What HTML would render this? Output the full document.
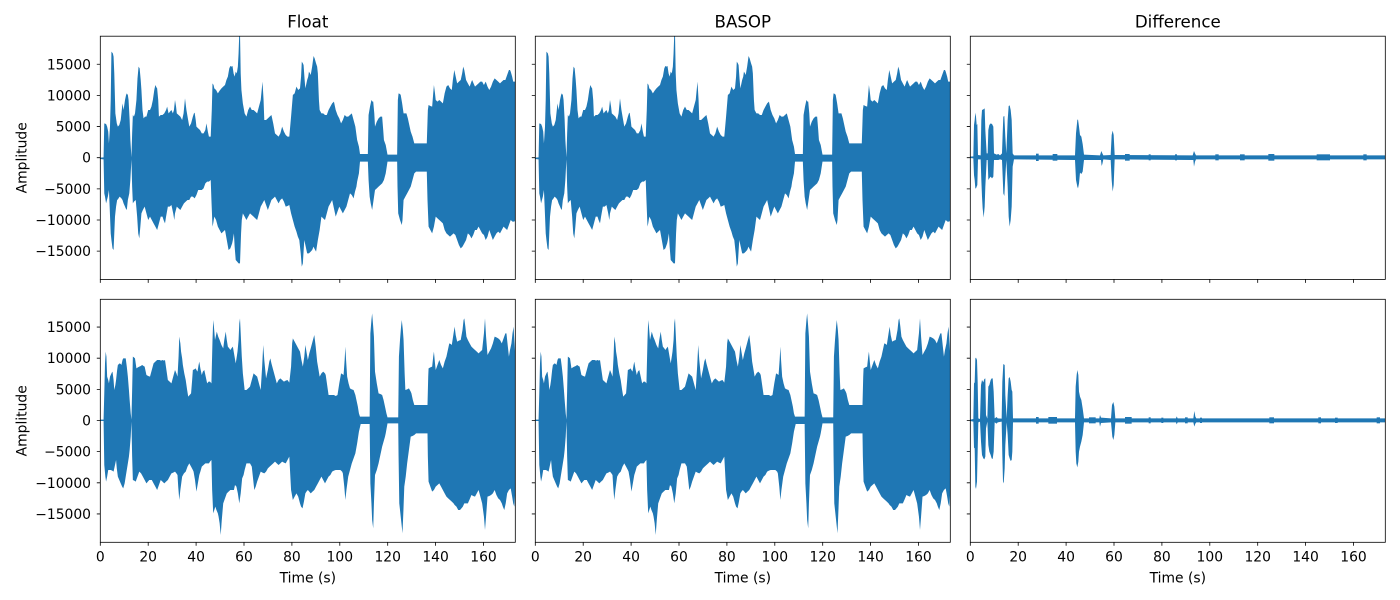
<!DOCTYPE html>
<html><head><meta charset="utf-8"><style>
html,body{margin:0;padding:0;background:#fff;}
svg{display:block;}
text{font-family:"DejaVu Sans","Liberation Sans",sans-serif;fill:#000;}
.tl{font-size:13.89px;}
.tt{font-size:16.67px;}
</style></head><body>
<svg width="1400" height="600" viewBox="0 0 1400 600" xmlns="http://www.w3.org/2000/svg">
<rect width="1400" height="600" fill="#fff"/>
<defs>
<clipPath id="c1"><rect x="100.3" y="36.2" width="415" height="243.2"/></clipPath>
<clipPath id="c2"><rect x="535.3" y="36.2" width="415" height="243.2"/></clipPath>
<clipPath id="c3"><rect x="970.3" y="36.2" width="415" height="243.2"/></clipPath>
<clipPath id="c4"><rect x="100.3" y="299.3" width="415" height="243"/></clipPath>
<clipPath id="c5"><rect x="535.3" y="299.3" width="415" height="243"/></clipPath>
<clipPath id="c6"><rect x="970.3" y="299.3" width="415" height="243"/></clipPath>
<polygon id="sigA" fill="#1f77b4" points="281,473 290,472 292,370 297,372 300,380 303,395 305,430 308,380 310,300 312,155 316,160 318,170 320,220 323,340 327,370 330,380 334,375 338,360 341,330 343,310 346,330 350,300 353,285 355,280 358,285 360,300 363,360 365,420 368,472 370,400 372,345 375,350 378,340 382,300 385,235 388,200 391,205 394,240 396,270 399,330 402,355 406,350 410,350 415,330 420,330 424,320 428,300 432,270 435,255 438,262 440,265 443,300 445,350 450,345 455,345 460,340 465,330 468,320 472,340 476,335 480,330 484,340 487,330 490,300 493,320 495,340 500,345 505,350 510,360 514,340 518,295 522,330 526,355 530,380 535,370 540,350 543,340 545,338 548,360 550,380 555,385 560,390 565,400 570,400 575,390 578,370 582,395 585,410 590,410 593,330 595,250 598,255 600,265 605,270 610,280 615,272 620,265 625,260 630,255 634,240 638,230 642,205 645,198 648,200 651,198 654,220 657,230 660,215 663,220 666,200 668,160 670,100 672,100 674,220 676,270 680,310 685,340 690,350 695,330 700,320 705,330 710,330 715,335 720,340 725,320 730,300 735,245 738,300 740,360 745,360 750,355 755,350 760,345 765,370 770,400 775,405 780,410 785,400 790,380 795,395 800,405 805,410 810,410 815,350 820,285 825,280 830,260 835,270 840,265 843,230 845,185 848,190 850,195 853,240 855,265 858,250 860,240 863,230 865,215 868,220 870,225 874,200 878,168 881,175 885,190 888,200 890,220 893,300 895,330 900,340 905,340 910,345 915,345 920,330 925,320 930,310 935,305 940,330 945,345 950,355 955,370 960,360 965,345 970,350 975,350 980,345 985,340 990,360 995,380 1000,420 1005,440 1008,462 1030,462 1032,345 1036,320 1040,300 1043,305 1045,305 1048,340 1050,380 1055,365 1060,355 1065,350 1070,350 1073,390 1075,420 1080,435 1085,464 1112,464 1114,300 1116,280 1120,282 1122,285 1126,310 1130,340 1135,340 1138,340 1142,355 1145,370 1150,395 1155,410 1160,430 1165,430 1195,430 1198,330 1200,315 1205,318 1210,320 1213,280 1215,255 1218,280 1220,300 1225,305 1230,300 1235,305 1240,310 1245,280 1250,260 1255,255 1260,265 1265,270 1268,240 1272,210 1276,230 1280,250 1285,245 1290,240 1294,220 1297,200 1300,210 1305,240 1310,250 1315,260 1320,245 1322,240 1326,250 1330,260 1335,255 1340,250 1345,245 1350,245 1355,255 1360,245 1365,260 1370,270 1375,260 1380,245 1385,235 1390,240 1395,245 1400,250 1405,245 1410,240 1415,240 1420,225 1425,210 1428,210 1430,215 1434,230 1437,245 1443,245 1443,660 1440,665 1435,665 1430,660 1425,675 1420,690 1415,685 1410,680 1405,690 1400,700 1395,695 1390,700 1385,710 1380,720 1375,705 1370,690 1365,710 1360,720 1355,705 1350,700 1345,690 1340,680 1335,690 1330,690 1325,705 1320,715 1315,705 1310,700 1305,720 1300,730 1295,740 1290,745 1285,735 1280,720 1275,705 1270,700 1265,705 1260,710 1255,705 1250,700 1245,690 1240,670 1235,665 1230,660 1225,655 1220,650 1215,680 1210,700 1205,690 1200,680 1197,600 1195,515 1165,515 1160,520 1155,540 1150,560 1145,570 1140,580 1135,590 1130,600 1127,660 1125,675 1120,660 1115,640 1113,560 1112,485 1085,485 1080,520 1075,540 1070,550 1065,555 1060,560 1055,565 1050,570 1046,600 1042,630 1038,610 1035,590 1032,540 1030,485 1008,485 1005,520 1000,545 998,560 994,575 990,595 985,585 980,580 975,600 970,620 965,630 960,640 955,630 950,620 945,635 940,650 935,625 930,600 925,610 920,620 915,640 910,660 905,655 900,650 895,690 890,720 885,755 880,745 878,740 874,750 870,755 865,760 860,760 856,740 852,720 848,790 845,800 842,760 838,720 834,710 830,695 825,680 820,660 815,640 810,615 805,618 800,620 795,605 790,595 785,600 780,610 775,600 770,590 765,595 760,600 755,615 750,630 745,615 740,600 735,610 730,620 725,640 720,660 715,655 710,650 705,645 700,640 695,650 690,660 685,650 680,640 677,660 675,700 672,790 668,790 664,785 660,780 657,740 655,700 652,720 650,730 645,745 640,750 635,720 630,690 625,695 620,700 615,690 610,680 605,660 600,650 597,670 595,680 592,600 590,540 585,545 580,545 575,550 570,565 565,570 560,570 555,570 550,585 545,595 540,590 535,590 530,600 525,600 520,605 515,610 510,620 505,630 500,625 495,620 490,640 488,660 485,640 480,615 475,620 470,620 465,650 462,670 458,660 455,650 450,650 445,670 440,690 435,680 430,670 425,660 420,650 415,660 410,640 405,620 400,630 396,640 393,680 390,715 387,700 384,650 380,600 375,605 372,610 370,560 368,478 365,540 362,580 358,600 355,630 352,625 350,620 346,610 343,600 340,595 335,590 330,598 328,600 325,620 322,650 320,700 318,750 315,745 312,720 310,700 307,620 305,570 302,590 297,610 294,590 292,580 290,478 281,477"/>
<polygon id="sigB" fill="#1f77b4" points="281,389 290,389 292,310 294,220 296,185 298,200 300,260 303,270 305,280 308,260 310,255 313,248 315,245 318,270 320,300 323,285 325,270 328,240 330,225 333,222 335,220 338,222 340,225 343,210 345,205 350,205 352,205 355,230 358,260 361,300 363,330 366,370 368,389 370,300 372,200 375,202 378,205 380,220 382,235 386,232 390,230 394,228 398,225 402,228 405,230 410,255 415,258 420,260 425,240 430,220 435,215 440,210 444,210 447,210 451,212 455,210 459,212 462,210 466,240 470,270 475,275 480,280 485,260 490,240 494,250 497,260 500,200 502,140 505,160 507,185 510,205 512,225 516,250 520,270 524,300 527,320 531,315 535,310 538,270 540,240 544,238 548,235 550,240 553,245 556,225 558,215 561,235 565,255 568,245 572,240 576,260 580,280 584,275 588,275 592,280 595,150 597,90 599,110 602,150 605,135 607,125 611,140 615,150 620,165 625,175 628,150 632,125 635,150 638,170 642,175 645,180 648,175 652,170 656,195 660,220 663,200 665,185 668,150 670,100 672,85 674,130 677,200 680,250 685,300 690,300 695,295 700,290 705,270 710,250 715,255 720,260 725,280 730,300 734,230 737,165 740,210 745,265 750,240 754,215 757,205 760,220 765,240 770,260 775,280 780,270 785,265 790,270 795,275 800,272 805,270 810,278 815,230 818,160 820,145 825,155 830,165 835,175 840,185 844,210 848,230 852,200 855,165 858,185 862,210 866,190 870,175 875,155 880,135 884,170 888,215 892,240 895,260 900,250 905,245 910,250 912,255 916,285 920,315 925,315 930,315 935,315 940,318 945,315 950,280 955,250 958,252 962,255 965,210 967,170 969,210 972,260 976,280 980,295 985,298 990,300 995,315 998,330 1002,350 1005,370 1008,380 1035,380 1037,130 1040,90 1042,70 1045,110 1047,140 1050,245 1055,280 1060,310 1065,312 1070,315 1074,330 1078,350 1082,370 1085,382 1115,382 1117,200 1120,150 1123,110 1125,90 1128,120 1130,150 1133,250 1135,300 1140,298 1145,295 1150,305 1152,310 1156,330 1160,345 1197,345 1199,260 1200,235 1205,232 1210,230 1213,200 1215,185 1218,220 1220,240 1225,225 1230,210 1235,225 1240,235 1245,215 1250,200 1254,180 1258,160 1262,162 1265,165 1270,130 1273,110 1276,135 1280,155 1285,152 1290,150 1295,120 1298,90 1300,85 1303,110 1306,140 1310,150 1315,160 1320,170 1325,175 1330,180 1335,185 1340,190 1345,185 1350,180 1355,130 1358,85 1361,140 1365,195 1370,185 1375,175 1380,160 1385,140 1390,142 1395,145 1400,150 1405,160 1410,145 1415,130 1418,130 1422,170 1425,200 1428,180 1432,160 1435,130 1438,110 1440,150 1443,200 1443,600 1440,650 1437,640 1434,620 1430,595 1425,600 1420,610 1416,640 1412,660 1408,650 1405,640 1400,630 1395,625 1390,615 1385,600 1380,610 1375,615 1370,618 1365,620 1361,680 1358,720 1355,680 1350,640 1345,620 1340,600 1335,610 1330,620 1325,618 1320,615 1315,628 1310,640 1305,640 1300,640 1296,650 1292,655 1288,660 1283,660 1278,650 1273,645 1270,640 1265,635 1260,630 1255,625 1250,620 1245,610 1240,600 1235,590 1230,580 1225,585 1220,590 1215,600 1210,605 1205,590 1200,575 1198,500 1197,430 1165,430 1160,435 1155,438 1150,440 1145,480 1140,520 1136,560 1132,590 1130,650 1127,730 1124,700 1120,660 1118,640 1116,500 1115,400 1085,400 1080,430 1078,440 1074,455 1070,470 1065,495 1060,520 1055,540 1050,555 1047,640 1045,715 1042,690 1040,640 1037,580 1035,402 1010,402 1005,425 1000,460 995,490 990,505 985,520 980,540 975,560 970,600 967,630 964,590 960,550 958,545 953,540 948,540 944,540 940,540 935,542 930,545 925,555 920,560 915,570 910,580 905,570 900,560 895,570 890,580 885,590 880,600 875,605 870,610 866,605 862,600 858,605 855,610 851,635 847,655 843,650 840,640 835,620 830,610 825,620 820,630 815,600 810,500 805,510 800,520 795,518 790,515 785,520 780,525 775,520 770,515 765,520 760,525 755,530 750,535 745,545 740,550 735,548 730,545 725,560 720,575 716,590 712,600 708,560 705,530 700,520 695,520 690,520 685,540 682,555 678,565 674,610 670,640 666,610 662,590 658,585 655,600 650,600 645,600 640,605 635,610 630,625 625,640 621,690 618,735 615,700 612,680 610,670 606,660 603,650 600,660 597,670 594,600 592,510 588,515 585,520 580,520 575,520 570,525 565,530 561,545 558,555 554,580 550,605 546,570 542,545 540,540 535,530 530,520 525,530 520,545 515,550 510,560 505,600 502,630 499,590 497,555 494,550 490,545 485,548 480,550 475,560 470,570 465,575 460,580 455,575 450,570 445,585 440,600 435,590 430,580 425,570 421,570 418,570 414,575 410,580 405,570 400,560 395,550 390,545 385,560 380,575 376,572 372,570 370,500 368,395 366,440 363,480 361,500 358,520 355,540 352,560 349,580 345,595 342,590 338,580 334,570 330,560 327,535 325,510 322,525 318,545 314,542 310,540 306,540 303,540 300,560 297,575 295,560 292,525 290,393 281,393"/>
</defs>

<!-- waveforms -->
<g clip-path="url(#c1)"><use href="#sigA" transform="scale(0.357143,0.333333)"/></g>
<g clip-path="url(#c2)"><use href="#sigA" transform="translate(435,0) scale(0.357143,0.333333)"/></g>
<g clip-path="url(#c4)"><use href="#sigB" transform="translate(0,290) scale(0.357143,0.333333)"/></g>
<g clip-path="url(#c5)"><use href="#sigB" transform="translate(435,290) scale(0.357143,0.333333)"/></g>

<!-- top diff -->
<g clip-path="url(#c3)">
<polygon fill="#1f77b4" transform="translate(940,20) scale(0.333333)" points="91,410 100,409 102,315 104,300 106,278 108,290 110,315 112,312 114,405 122,406 124,300 126,270 130,268 134,265 136,330 140,400 143,400 145,330 148,315 152,310 156,312 160,320 162,400 170,404 175,402 180,406 186,400 188,340 190,290 193,288 196,350 199,400 203,300 206,258 209,256 212,270 215,300 218,400 222,406 405,406 408,340 412,300 414,298 417,320 420,345 424,350 428,372 432,404 480,406 484,393 487,400 490,406 512,405 515,345 518,332 521,345 524,405 758,406 762,393 765,400 768,406 1336,406 1336,418 768,418 765,425 762,440 760,420 524,418 521,495 518,515 515,480 512,420 490,418 487,432 485,438 483,420 432,420 428,455 424,462 420,458 417,490 414,505 412,500 408,480 405,420 222,418 218,440 215,560 212,600 209,620 206,590 203,500 199,420 196,470 193,528 190,520 188,470 186,420 180,418 175,420 170,420 162,420 160,470 156,475 152,470 148,475 145,480 143,420 140,420 136,500 134,560 131,593 128,565 126,530 124,480 122,418 114,418 112,495 110,500 108,505 106,505 104,480 102,465 100,415 91,414"/>
<g fill="#1f77b4" transform="translate(940,20) scale(0.333333)">
<rect x="288" y="401" width="8" height="22"/><rect x="338" y="402" width="14" height="20"/><rect x="555" y="402" width="14" height="20"/><rect x="626" y="403" width="6" height="18"/><rect x="705" y="403" width="6" height="18"/><rect x="826" y="403" width="10" height="18"/><rect x="900" y="403" width="14" height="18"/><rect x="985" y="402" width="18" height="20"/><rect x="1130" y="403" width="40" height="18"/><rect x="1270" y="403" width="10" height="18"/>
</g>
</g>
<!-- bottom diff -->
<g clip-path="url(#c6)">
<polygon fill="#1f77b4" transform="translate(960,295) scale(0.333333)" points="31,374 40,372 42,265 44,262 46,190 48,188 51,195 53,260 55,370 60,372 63,270 66,255 70,262 73,252 76,250 78,360 82,371 85,275 88,270 92,255 95,250 98,250 101,290 104,370 110,366 113,370 125,371 127,260 130,207 134,210 136,300 140,370 143,300 146,250 149,246 152,260 155,285 157,290 159,370 345,370 347,275 350,240 352,225 355,240 357,290 360,305 364,315 368,340 372,370 418,370 420,360 423,368 453,370 456,330 460,321 463,335 466,370 648,370 650,364 653,370 700,370 703,348 706,365 709,370 1276,370 1276,382 709,382 706,386 703,395 700,382 653,382 650,388 648,382 466,382 463,420 460,435 457,425 453,382 423,384 420,395 418,382 372,382 368,420 364,440 360,455 357,470 355,500 352,517 349,505 347,470 345,382 159,382 157,470 155,495 152,498 149,490 146,480 143,420 140,382 136,450 134,520 131,565 129,560 127,480 125,380 113,382 110,386 104,382 101,470 98,492 95,490 92,480 88,470 85,450 82,380 78,400 76,485 73,493 70,490 66,480 63,440 60,380 55,382 53,470 51,560 48,582 46,575 44,460 42,458 40,380 31,378"/>
<g fill="#1f77b4" transform="translate(960,295) scale(0.333333)">
<rect x="228" y="366" width="8" height="20"/><rect x="265" y="366" width="26" height="20"/><rect x="387" y="367" width="20" height="18"/><rect x="495" y="366" width="20" height="20"/><rect x="566" y="367" width="6" height="18"/><rect x="604" y="368" width="6" height="16"/><rect x="675" y="367" width="8" height="18"/><rect x="720" y="368" width="6" height="16"/><rect x="928" y="367" width="14" height="18"/><rect x="1075" y="367" width="8" height="18"/><rect x="1125" y="368" width="8" height="16"/><rect x="1250" y="367" width="10" height="18"/>
</g>
</g>

<!-- axes frames -->
<g fill="none" stroke="#000" stroke-width="0.8">
<rect x="100.3" y="36.2" width="415" height="243.2"/>
<rect x="535.3" y="36.2" width="415" height="243.2"/>
<rect x="970.3" y="36.2" width="415" height="243.2"/>
<rect x="100.3" y="299.3" width="415" height="243"/>
<rect x="535.3" y="299.3" width="415" height="243"/>
<rect x="970.3" y="299.3" width="415" height="243"/>
</g>

<!-- ticks -->
<g stroke="#000" stroke-width="0.8">
<path d="M100.3 64.25h-3.5M100.3 95.4h-3.5M100.3 126.55h-3.5M100.3 157.7h-3.5M100.3 188.85h-3.5M100.3 220h-3.5M100.3 251.15h-3.5"/>
<path d="M535.3 64.25h-3.5M535.3 95.4h-3.5M535.3 126.55h-3.5M535.3 157.7h-3.5M535.3 188.85h-3.5M535.3 220h-3.5M535.3 251.15h-3.5"/>
<path d="M970.3 64.25h-3.5M970.3 95.4h-3.5M970.3 126.55h-3.5M970.3 157.7h-3.5M970.3 188.85h-3.5M970.3 220h-3.5M970.3 251.15h-3.5"/>
<path d="M100.3 327.05h-3.5M100.3 358.2h-3.5M100.3 389.35h-3.5M100.3 420.5h-3.5M100.3 451.65h-3.5M100.3 482.8h-3.5M100.3 513.95h-3.5"/>
<path d="M535.3 327.05h-3.5M535.3 358.2h-3.5M535.3 389.35h-3.5M535.3 420.5h-3.5M535.3 451.65h-3.5M535.3 482.8h-3.5M535.3 513.95h-3.5"/>
<path d="M970.3 327.05h-3.5M970.3 358.2h-3.5M970.3 389.35h-3.5M970.3 420.5h-3.5M970.3 451.65h-3.5M970.3 482.8h-3.5M970.3 513.95h-3.5"/>
<path d="M100.3 279.4v3.5M148.2 279.4v3.5M196.1 279.4v3.5M244 279.4v3.5M291.9 279.4v3.5M339.8 279.4v3.5M387.7 279.4v3.5M435.6 279.4v3.5M483.5 279.4v3.5"/>
<path d="M535.3 279.4v3.5M583.2 279.4v3.5M631.1 279.4v3.5M679 279.4v3.5M726.9 279.4v3.5M774.8 279.4v3.5M822.7 279.4v3.5M870.6 279.4v3.5M918.5 279.4v3.5"/>
<path d="M970.3 279.4v3.5M1018.2 279.4v3.5M1066.1 279.4v3.5M1114 279.4v3.5M1161.9 279.4v3.5M1209.8 279.4v3.5M1257.7 279.4v3.5M1305.6 279.4v3.5M1353.5 279.4v3.5"/>
<path d="M100.3 542.3v3.5M148.2 542.3v3.5M196.1 542.3v3.5M244 542.3v3.5M291.9 542.3v3.5M339.8 542.3v3.5M387.7 542.3v3.5M435.6 542.3v3.5M483.5 542.3v3.5"/>
<path d="M535.3 542.3v3.5M583.2 542.3v3.5M631.1 542.3v3.5M679 542.3v3.5M726.9 542.3v3.5M774.8 542.3v3.5M822.7 542.3v3.5M870.6 542.3v3.5M918.5 542.3v3.5"/>
<path d="M970.3 542.3v3.5M1018.2 542.3v3.5M1066.1 542.3v3.5M1114 542.3v3.5M1161.9 542.3v3.5M1209.8 542.3v3.5M1257.7 542.3v3.5M1305.6 542.3v3.5M1353.5 542.3v3.5"/>
</g>

<!-- y tick labels -->
<g class="tl" text-anchor="end">
<text x="91" y="69.3">15000</text>
<text x="91" y="100.4">10000</text>
<text x="91" y="131.6">5000</text>
<text x="91" y="162.7">0</text>
<text x="91" y="193.9">−5000</text>
<text x="91" y="225">−10000</text>
<text x="91" y="256.2">−15000</text>
<text x="91" y="332.1">15000</text>
<text x="91" y="363.2">10000</text>
<text x="91" y="394.4">5000</text>
<text x="91" y="425.5">0</text>
<text x="91" y="456.7">−5000</text>
<text x="91" y="487.8">−10000</text>
<text x="91" y="519">−15000</text>
</g>

<!-- x tick labels -->
<g class="tl" text-anchor="middle">
<text x="100.3" y="561.5">0</text><text x="148.2" y="561.5">20</text><text x="196.1" y="561.5">40</text><text x="244" y="561.5">60</text><text x="291.9" y="561.5">80</text><text x="339.8" y="561.5">100</text><text x="387.7" y="561.5">120</text><text x="435.6" y="561.5">140</text><text x="483.5" y="561.5">160</text>
<text x="535.3" y="561.5">0</text><text x="583.2" y="561.5">20</text><text x="631.1" y="561.5">40</text><text x="679" y="561.5">60</text><text x="726.9" y="561.5">80</text><text x="774.8" y="561.5">100</text><text x="822.7" y="561.5">120</text><text x="870.6" y="561.5">140</text><text x="918.5" y="561.5">160</text>
<text x="970.3" y="561.5">0</text><text x="1018.2" y="561.5">20</text><text x="1066.1" y="561.5">40</text><text x="1114" y="561.5">60</text><text x="1161.9" y="561.5">80</text><text x="1209.8" y="561.5">100</text><text x="1257.7" y="561.5">120</text><text x="1305.6" y="561.5">140</text><text x="1353.5" y="561.5">160</text>
<text x="307.8" y="582.5">Time (s)</text>
<text x="742.8" y="582.5">Time (s)</text>
<text x="1177.8" y="582.5">Time (s)</text>
</g>

<!-- y labels -->
<g class="tl" text-anchor="middle">
<text transform="translate(26.5,157.8) rotate(-90)">Amplitude</text>
<text transform="translate(26.5,420.8) rotate(-90)">Amplitude</text>
</g>

<!-- titles -->
<g class="tt" text-anchor="middle">
<text x="307.8" y="27.5">Float</text>
<text x="742.8" y="27.5">BASOP</text>
<text x="1177.8" y="27.5">Difference</text>
</g>
</svg>
</body></html>
